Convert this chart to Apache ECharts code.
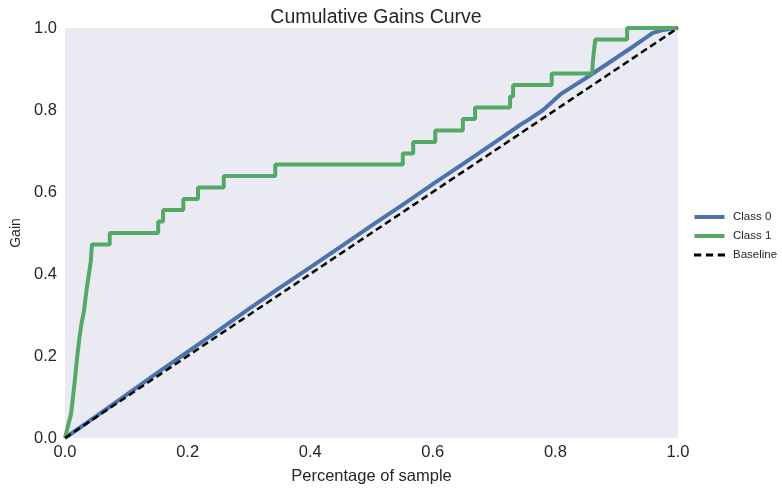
<!DOCTYPE html>
<html>
<head>
<meta charset="utf-8">
<script src="https://cdn.jsdelivr.net/npm/echarts@6/dist/echarts.min.js"></script>
<style>
  html, body { margin: 0; padding: 0; background: #ffffff; }
  #chart { width: 782px; height: 489px; }
</style>
</head>
<body>
<div id="chart"></div>
<script>
// Cumulative gains for each class: fraction of sample (x) vs. gain (y)
const class0X = [0, 0.05, 0.1, 0.15, 0.2, 0.25, 0.3, 0.35, 0.4, 0.45, 0.5, 0.55, 0.6, 0.65, 0.7, 0.742, 0.76, 0.78, 0.808, 0.85, 0.894, 0.93, 0.959, 0.975, 1.0];
const class0Y = [0, 0.052, 0.105, 0.158, 0.21, 0.262, 0.315, 0.366, 0.416, 0.467, 0.518, 0.568, 0.619, 0.669, 0.72, 0.763, 0.78, 0.8, 0.838, 0.878, 0.922, 0.958, 0.988, 0.995, 1.0];

const class1X = [0, 0.005, 0.01, 0.013, 0.016, 0.02, 0.024, 0.027, 0.031, 0.035, 0.038, 0.042, 0.044,
  0.073, 0.073, 0.152, 0.152, 0.16, 0.16, 0.193, 0.193, 0.217, 0.217, 0.259, 0.259, 0.343, 0.343,
  0.551, 0.551, 0.568, 0.568, 0.604, 0.604, 0.649, 0.649, 0.669, 0.669, 0.726, 0.726, 0.731, 0.731,
  0.794, 0.794, 0.86, 0.861, 0.865, 0.917, 0.917, 1.0];
const class1Y = [0, 0.03, 0.06, 0.1, 0.14, 0.2, 0.25, 0.28, 0.31, 0.36, 0.39, 0.43, 0.472,
  0.472, 0.5, 0.5, 0.528, 0.528, 0.556, 0.556, 0.583, 0.583, 0.611, 0.611, 0.639, 0.639, 0.667,
  0.667, 0.694, 0.694, 0.722, 0.722, 0.75, 0.75, 0.778, 0.778, 0.806, 0.806, 0.833, 0.833, 0.861,
  0.861, 0.889, 0.889, 0.917, 0.972, 0.972, 1.0, 1.0];

const baselineX = [0, 1];
const baselineY = [0, 1];

const seriesNames = ['Class 0', 'Class 1', 'Baseline'];

const pairs = (xs, ys) => xs.map((x, i) => [x, ys[i]]);
const FONT = 'Liberation Sans, Arial, sans-serif';

// Legend glyphs: a solid bar for the curves, three dashes for the baseline
const solidIcon = 'path://M0,0h30v4h-30z';
const dashedIcon = 'path://M0,0h7v3h-7z M11.5,0h7v3h-7z M23,0h7v3h-7z';

const chart = echarts.init(document.getElementById('chart'));
chart.setOption({
  backgroundColor: '#ffffff',
  animation: false,
  title: {
    text: 'Cumulative Gains Curve',
    left: 371, top: 3, textAlign: 'center',
    textStyle: { fontFamily: FONT, fontSize: 19.5, fontWeight: 'normal', color: '#262626' }
  },
  legend: {
    orient: 'vertical',
    left: 689, top: 206,
    itemWidth: 31, itemHeight: 4, itemGap: 7,
    textStyle: { fontFamily: FONT, fontSize: 11.5, color: '#262626', padding: [0, 0, 0, 3] },
    data: [
      { name: seriesNames[0], icon: solidIcon },
      { name: seriesNames[1], icon: solidIcon },
      { name: seriesNames[2], icon: dashedIcon }
    ]
  },
  grid: {
    left: 65, right: 104, top: 28, bottom: 51,
    outerBoundsMode: 'none', containLabel: false,
    show: true, backgroundColor: '#EAEAF2', borderWidth: 0
  },
  xAxis: {
    type: 'value', min: 0, max: 1, interval: 0.2,
    name: 'Percentage of sample', nameLocation: 'middle', nameGap: 30,
    nameTextStyle: { fontFamily: FONT, fontSize: 16.5, color: '#262626' },
    axisLine: { show: false }, axisTick: { show: false }, splitLine: { show: false },
    axisLabel: {
      fontFamily: FONT, fontSize: 16.5, color: '#262626', margin: 6,
      formatter: v => v.toFixed(1)
    }
  },
  yAxis: {
    type: 'value', min: 0, max: 1, interval: 0.2,
    name: 'Gain', nameLocation: 'middle', nameGap: 41, nameRotate: 90,
    nameTextStyle: { fontFamily: FONT, fontSize: 14, color: '#262626' },
    axisLine: { show: false }, axisTick: { show: false }, splitLine: { show: false },
    axisLabel: {
      fontFamily: FONT, fontSize: 16.5, color: '#262626', margin: 8,
      formatter: v => v.toFixed(1)
    }
  },
  series: [
    {
      name: seriesNames[0], type: 'line', showSymbol: false, symbol: 'none', clip: false,
      data: pairs(class0X, class0Y),
      lineStyle: { color: '#4C72B0', width: 4 }, itemStyle: { color: '#4C72B0' }, z: 2
    },
    {
      name: seriesNames[1], type: 'line', showSymbol: false, symbol: 'none', clip: false,
      data: pairs(class1X, class1Y),
      lineStyle: { color: '#55A868', width: 4 }, itemStyle: { color: '#55A868' }, z: 2
    },
    {
      name: seriesNames[2], type: 'line', showSymbol: false, symbol: 'none', clip: false,
      data: pairs(baselineX, baselineY),
      lineStyle: { color: '#000000', width: 2.5, type: [7, 4] }, itemStyle: { color: '#000000' }, z: 3
    }
  ]
});
</script>
</body>
</html>
